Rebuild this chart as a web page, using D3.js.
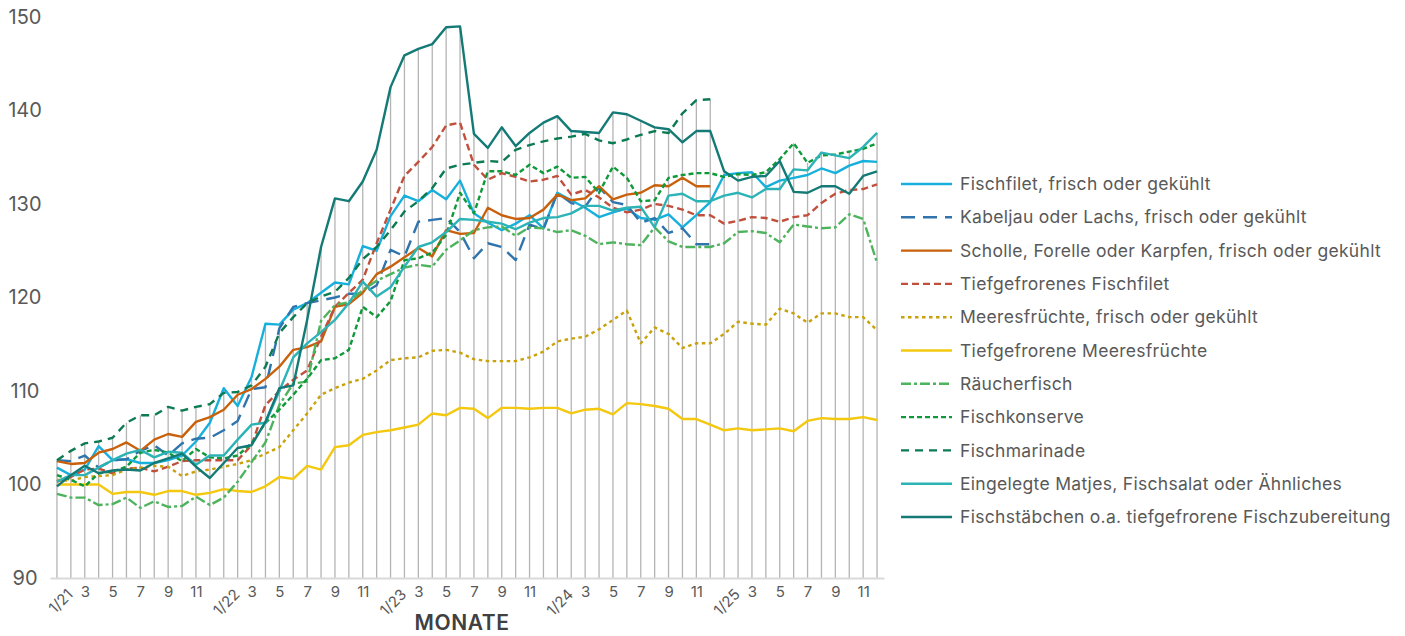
<!DOCTYPE html>
<html>
<head>
<meta charset="utf-8">
<script src="https://cdn.jsdelivr.net/npm/d3@7"></script>
<style>
  body { margin: 0; background: #fff; }
  svg text { font-family: Inter, "Open Sans", sans-serif; }
</style>
</head>
<body>
<div id="chart"></div>
<script>
// months 1/21 .. 12/25
const months = [
  "1/21","2/21","3/21","4/21","5/21","6/21","7/21","8/21","9/21","10/21","11/21","12/21",
  "1/22","2/22","3/22","4/22","5/22","6/22","7/22","8/22","9/22","10/22","11/22","12/22",
  "1/23","2/23","3/23","4/23","5/23","6/23","7/23","8/23","9/23","10/23","11/23","12/23",
  "1/24","2/24","3/24","4/24","5/24","6/24","7/24","8/24","9/24","10/24","11/24","12/24",
  "1/25","2/25","3/25","4/25","5/25","6/25","7/25","8/25","9/25","10/25","11/25","12/25"
];

const yTicks = [90, 100, 110, 120, 130, 140, 150];

const fischfilet = [101.8,101.0,101.6,104.1,102.6,102.7,102.3,102.3,102.6,103.1,104.6,106.6,
  110.3,108.4,111.5,117.2,117.1,118.7,119.4,120.5,121.6,121.4,125.5,125.0,
  128.7,130.9,130.3,131.5,130.5,132.5,129.0,128.0,127.2,127.9,128.8,127.4,
  131.2,130.4,129.6,128.6,129.1,129.5,128.5,128.3,128.9,127.5,128.8,130.2,
  133.1,133.3,133.4,131.8,132.5,132.8,133.1,133.8,133.3,134.1,134.6,134.5];

const kabeljau = [102.6,102.5,103.1,101.8,102.6,102.7,103.6,104.2,103.1,104.4,104.9,105.0,
  105.8,106.8,110.2,110.4,116.7,119.0,119.4,119.7,120.0,120.4,120.4,121.3,
  125.1,124.4,128.1,128.3,128.5,127.0,124.2,125.8,125.4,124.0,127.8,127.3,
  131.2,130.1,129.7,131.8,130.2,129.9,128.0,128.5,126.9,127.4,125.7,125.7];

const scholle = [102.5,102.2,102.3,103.4,103.8,104.5,103.6,104.8,105.4,105.1,106.7,107.2,
  108.0,109.6,110.2,111.3,112.6,114.4,114.7,115.3,119.0,119.3,120.5,122.5,
  123.3,124.3,125.3,124.4,127.2,126.8,126.9,129.6,128.8,128.4,128.5,129.4,
  131.0,130.4,130.6,131.9,130.5,131.0,131.2,132.0,131.9,132.8,131.9,131.9];

const tkFischfilet = [100.3,100.8,101.6,101.7,101.2,101.7,101.8,101.4,101.9,102.5,102.6,102.6,
  102.6,102.6,104.2,108.5,110.0,111.2,112.2,115.8,119.0,120.5,121.9,125.8,
  129.4,133.0,134.5,136.1,138.4,138.7,134.2,132.6,133.3,132.9,132.4,132.6,
  133.0,131.0,131.5,130.7,129.6,129.1,129.4,130.0,129.8,129.4,128.8,128.8,
  127.9,128.2,128.6,128.5,128.1,128.6,128.8,130.1,131.1,131.5,131.6,132.1];

const meeresfruechte = [100.5,100.4,100.8,100.9,101.0,101.6,101.8,102.0,101.9,100.9,101.4,101.6,
  101.9,102.2,102.6,103.3,104.0,105.8,107.6,109.6,110.3,110.9,111.3,112.2,
  113.3,113.5,113.6,114.3,114.4,114.1,113.4,113.2,113.2,113.2,113.6,114.2,
  115.3,115.6,115.8,116.6,117.6,118.6,115.1,116.8,116.1,114.6,115.1,115.1,
  116.1,117.4,117.2,117.1,118.8,118.3,117.3,118.3,118.3,117.9,117.9,116.5];

const tkMeeresfruechte = [100.0,100.0,100.0,100.0,99.0,99.2,99.2,98.9,99.3,99.3,98.9,99.1,
  99.5,99.3,99.2,99.8,100.8,100.6,102.0,101.6,104.0,104.2,105.3,105.6,
  105.8,106.1,106.4,107.6,107.4,108.2,108.1,107.1,108.2,108.2,108.1,108.2,
  108.2,107.6,108.0,108.1,107.5,108.7,108.6,108.4,108.1,107.0,107.0,106.4,
  105.8,106.0,105.8,105.9,106.0,105.7,106.8,107.1,107.0,107.0,107.2,106.9];

const raeucherfisch = [99.0,98.6,98.6,97.8,97.9,98.6,97.5,98.2,97.6,97.7,98.7,97.8,
  98.6,100.3,102.4,104.5,108.5,110.8,111.0,117.5,119.2,119.5,120.8,121.8,
  122.5,123.2,123.5,123.3,125.1,126.1,127.2,127.5,127.6,126.6,127.5,127.4,
  127.0,127.2,126.6,125.7,125.9,125.7,125.6,127.5,126.0,125.4,125.4,125.4,
  125.8,127.0,127.1,126.9,125.9,127.8,127.6,127.4,127.5,128.9,128.4,123.7];

const fischkonserve = [101.0,100.5,99.8,101.2,101.4,101.9,103.4,103.7,103.4,102.5,103.8,102.9,
  102.8,103.1,104.4,106.6,108.0,109.6,111.3,113.3,113.5,114.4,119.0,117.9,
  119.6,124.0,124.2,124.8,126.7,131.2,129.0,133.5,133.5,133.1,134.2,133.3,
  134.0,132.8,132.9,131.2,134.0,132.8,130.3,130.4,132.8,133.1,133.3,133.3,
  132.9,133.2,133.1,133.4,134.8,136.5,134.4,135.2,135.3,135.6,135.9,136.5];

const fischmarinade = [102.6,103.6,104.4,104.6,105.0,106.6,107.4,107.4,108.3,107.9,108.3,108.6,
  109.8,109.9,110.6,112.6,116.2,117.9,119.4,120.1,120.6,122.1,124.1,125.4,
  127.2,129.2,130.3,131.7,133.8,134.2,134.4,134.6,134.5,135.8,136.3,136.7,
  137.0,137.2,137.5,136.8,136.5,136.9,137.4,137.8,137.6,139.7,141.1,141.2];

const matjes = [100.3,101.0,101.0,101.8,102.6,103.3,103.7,102.9,103.5,103.4,102.1,103.1,
  103.1,104.8,106.4,106.6,110.0,113.6,115.1,116.3,117.6,119.4,121.7,120.1,
  121.1,123.3,125.4,125.9,127.0,128.4,128.3,128.1,127.9,127.3,128.0,128.5,
  128.6,129.0,129.8,129.8,129.3,129.6,129.7,127.5,130.9,131.1,130.3,130.3,
  130.9,131.2,130.7,131.6,131.6,133.7,133.6,135.5,135.2,134.9,136.1,137.6];

const fischstaebchen = [99.8,101.0,102.0,101.2,101.5,101.6,101.5,102.3,102.8,103.3,101.9,100.7,
  102.3,103.9,104.2,106.7,110.3,110.6,117.6,125.4,130.6,130.3,132.4,135.8,
  142.5,145.9,146.6,147.1,148.9,149.0,137.5,136.0,138.2,136.2,137.6,138.7,
  139.4,137.8,137.7,137.6,139.8,139.6,138.9,138.2,138.0,136.6,137.8,137.8,
  133.5,132.5,132.9,133.0,134.6,131.3,131.2,131.9,131.9,131.1,133.0,133.5];

const seriesNames = [
  "Fischfilet, frisch oder gekühlt",
  "Kabeljau oder Lachs, frisch oder gekühlt",
  "Scholle, Forelle oder Karpfen, frisch oder gekühlt",
  "Tiefgefrorenes Fischfilet",
  "Meeresfrüchte, frisch oder gekühlt",
  "Tiefgefrorene Meeresfrüchte",
  "Räucherfisch",
  "Fischkonserve",
  "Fischmarinade",
  "Eingelegte Matjes, Fischsalat oder Ähnliches",
  "Fischstäbchen o.a. tiefgefrorene Fischzubereitung"
];
const seriesValues = [fischfilet, kabeljau, scholle, tkFischfilet, meeresfruechte,
  tkMeeresfruechte, raeucherfisch, fischkonserve, fischmarinade, matjes, fischstaebchen];

const seriesColors = ["#17b0dc", "#2f74ad", "#c8600c", "#c0503c", "#c9a10a", "#f3c80f",
  "#4db35d", "#0e9a3a", "#0d7b52", "#2bb3b6", "#147a76"];
const seriesDash = [null, "14,8", null, "7,4", "3.5,3.5", null, "10,3,3,3", "5,3", "8,6", null, null];

const series = seriesNames.map((name, k) => ({
  name,
  values: seriesValues[k],
  color: seriesColors[k],
  dash: seriesDash[k]
}));

const W = 1405, H = 636;
const svg = d3.select("#chart").append("svg")
  .attr("width", W)
  .attr("height", H);

const x = d3.scalePoint()
  .domain(d3.range(months.length))
  .range([50, 884])
  .padding(0.5);

const y = d3.scaleLinear()
  .domain([90, 150])
  .range([578, 17]);

// drop lines from the axis to the highest value of each month
const tops = months.map((m, i) => d3.max(seriesValues, s => s[i]));
svg.append("g")
  .selectAll("line")
  .data(tops)
  .enter()
  .append("line")
  .attr("x1", (d, i) => x(i))
  .attr("x2", (d, i) => x(i))
  .attr("y1", y(90))
  .attr("y2", d => y(d))
  .attr("stroke", "#b4b4b4")
  .attr("stroke-width", 1.3);

// x axis
const tickIdx = d3.range(0, months.length, 2);
const xAxis = svg.append("g")
  .attr("transform", `translate(0,${y(90)})`)
  .call(d3.axisBottom(x)
    .tickValues(tickIdx)
    .tickSize(0)
    .tickPadding(8)
    .tickFormat(i => months[i].startsWith("1/") ? months[i] : months[i].split("/")[0]));

xAxis.select(".domain")
  .attr("stroke", "#d9d9d9")
  .attr("stroke-width", 2);

xAxis.selectAll(".tick text")
  .attr("fill", "#595959")
  .style("font-size", "15px");

xAxis.selectAll(".tick text")
  .filter(i => months[i].startsWith("1/"))
  .attr("text-anchor", "end")
  .attr("dy", "0.35em")
  .attr("transform", "translate(7,8) rotate(-45)");

// y axis labels, centred in the left margin
const yAxis = svg.append("g")
  .attr("transform", "translate(25,0)")
  .call(d3.axisLeft(y).tickValues(yTicks).tickSize(0).tickPadding(0));
yAxis.select(".domain").remove();
yAxis.selectAll(".tick text")
  .attr("text-anchor", "middle")
  .attr("fill", "#595959")
  .style("font-size", "20px");

svg.append("text")
  .attr("x", 462)
  .attr("y", 630)
  .attr("text-anchor", "middle")
  .attr("fill", "#404040")
  .style("font-size", "21px")
  .style("font-weight", 600)
  .style("letter-spacing", "0.6px")
  .text("MONATE");

// lines
const line = d3.line()
  .x((d, i) => x(i))
  .y(d => y(d));

svg.append("g")
  .selectAll("path")
  .data(series)
  .enter()
  .append("path")
  .attr("d", d => line(d.values))
  .attr("fill", "none")
  .attr("stroke", d => d.color)
  .attr("stroke-width", 2.4)
  .attr("stroke-dasharray", d => d.dash)
  .attr("stroke-linejoin", "round");

// legend
const legend = svg.append("g")
  .selectAll("g")
  .data(series)
  .enter()
  .append("g")
  .attr("transform", (d, k) => `translate(901,${184 + k * 33.3})`);

legend.append("line")
  .attr("x1", 0)
  .attr("x2", 51)
  .attr("stroke", d => d.color)
  .attr("stroke-width", 2.4)
  .attr("stroke-dasharray", d => d.dash);

legend.append("text")
  .attr("x", 59)
  .attr("dy", "0.35em")
  .attr("fill", "#595959")
  .style("font-size", "17.5px")
  .style("letter-spacing", "0.3px")
  .text(d => d.name);
</script>
</body>
</html>
